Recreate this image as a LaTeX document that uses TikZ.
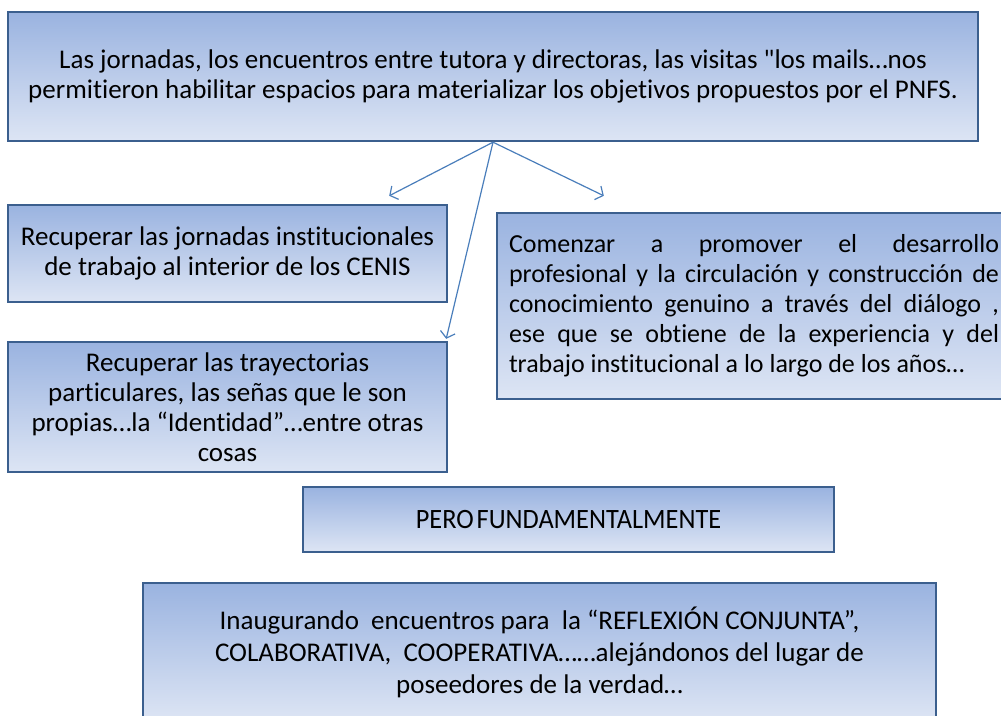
\documentclass[tikz,border=0pt]{standalone}
\usepackage{fontspec}
\setmainfont{Carlito}[Ligatures={TeXOff,NoCommon}]
\newfontfamily\narrowfont{Carlito}[FakeStretch=0.94,Ligatures={TeXOff,NoCommon}]
\usetikzlibrary{arrows.meta,positioning}
\definecolor{boxline}{HTML}{3B5F8E}
\definecolor{boxtop}{HTML}{9AB3E0}
\definecolor{boxbot}{HTML}{DDE5F4}
\definecolor{arrowblue}{HTML}{4A7EBB}
\tikzset{
  idea/.style={draw=boxline, line width=2.4pt, top color=boxtop, bottom color=boxbot,
    inner sep=0pt, font=\fontsize{27}{30}\selectfont, align=flush center},
  link/.style={draw=arrowblue, line width=1.2pt, -{Straight Barb[length=6pt,width=15pt]}}
}

\begin{document}
\begin{tikzpicture}[x=1pt,y=-1pt]
	\clip (0,0) rectangle (1001,715);
	\fill[white] (0,0) rectangle (1001,715);

	% boxes
	\node[idea, minimum width=970pt, minimum height=129pt, text width=950pt] (jornadas) at (493,76.5)
		{Las jornadas, los encuentros entre tutora y directoras, las visitas "los mails…nos\\
		 permitieron habilitar espacios para materializar los objetivos propuestos por el PNFS.};
	\node[idea, minimum width=439pt, minimum height=97pt, text width=430pt] (cenis) at (227.5,253.5)
		{Recuperar las jornadas institucionales\\ de trabajo al interior de los CENIS};
	\node[idea, minimum width=439pt, minimum height=130pt, text width=430pt] (trayectorias) at (227.5,407)
		{Recuperar las trayectorias\\ particulares, las señas que le son\\ propias…la “Identidad”…entre otras\\ cosas};
	\node[idea, minimum width=514pt, minimum height=186pt, text width=490pt, align=justify,
		font=\fontsize{26}{30}\selectfont] (desarrollo) at (754,306)
		{Comenzar a promover el desarrollo\linebreak
		 profesional y la circulación y construcción de\linebreak
		 conocimiento genuino a través del diálogo ,\linebreak
		 ese que se obtiene de la experiencia y del\linebreak
		 trabajo institucional a lo largo de los años…};
	\node[idea, minimum width=531pt, minimum height=65pt, text width=520pt, font=\fontsize{28}{30}\narrowfont] (pero) at (568.5,519.5)
		{PERO\kern-3pt\ FUNDAMENTALMENTE};
	\node[idea, minimum width=793pt, minimum height=138pt, text width=780pt, font=\fontsize{27}{32}\selectfont] (reflexion) at (539.5,652)
		{Inaugurando\ \ encuentros para\ \ la “REFLEXIÓN CONJUNTA”,\\
		 COLABORATIVA,\ \ COOPERATIVA……alejándonos del lugar de\\
		 poseedores de la verdad…};

	% arrows
	\coordinate (toCenis) at ([xshift=-59pt,yshift=8pt]cenis.north east);
	\coordinate (toDesarrollo) at ([xshift=108pt,yshift=16pt]desarrollo.north west);
	\draw[link] (jornadas.south) -- (toCenis);
	\draw[link] (jornadas.south) -- ([shift={(-2pt,2pt)}]trayectorias.north east);
	\draw[link] (jornadas.south) -- (toDesarrollo);

\end{tikzpicture}
\end{document}
